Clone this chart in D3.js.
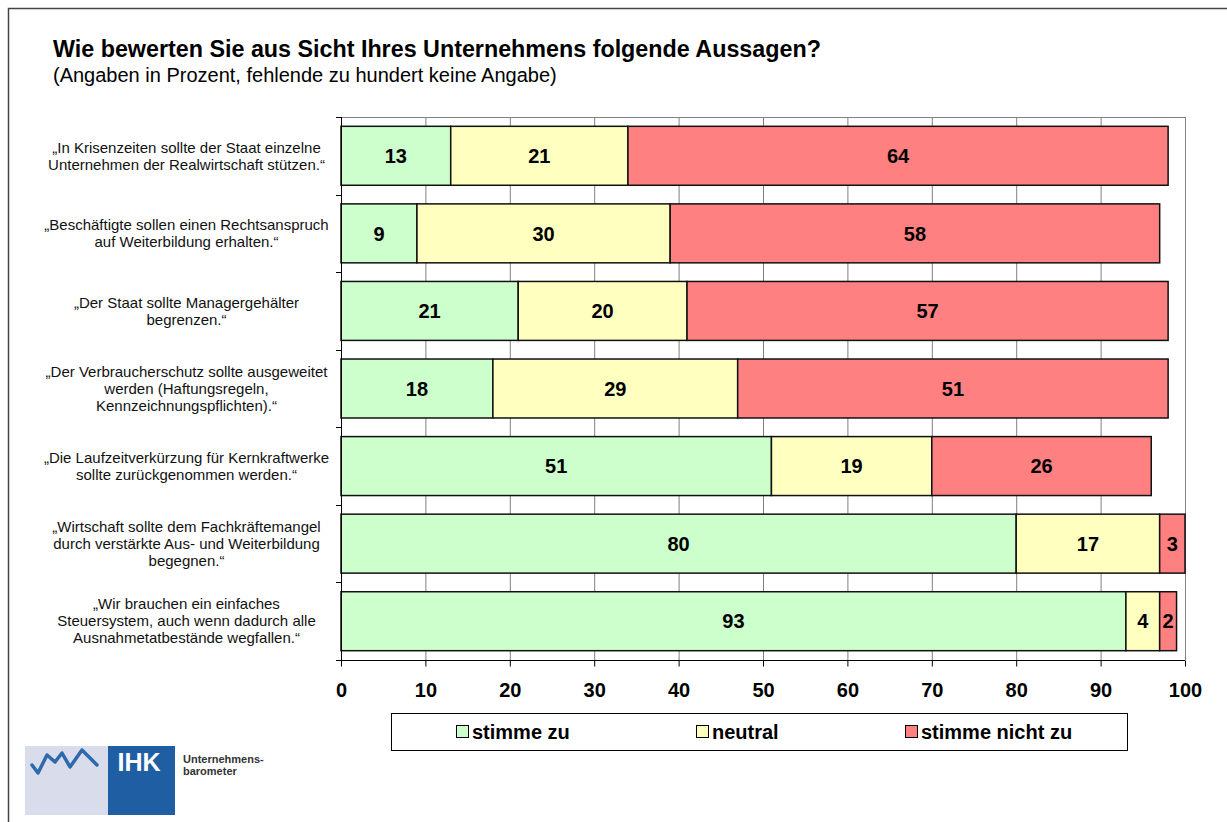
<!DOCTYPE html>
<html>
<head>
<meta charset="utf-8">
<script src="https://cdn.jsdelivr.net/npm/d3@7"></script>
<style>
  body { margin: 0; background: #fff; }
  svg { font-family: "Liberation Sans", Arial, sans-serif; }
</style>
</head>
<body>
<script>
const width = 1227;
const height = 822;

// statements (category labels, one array of lines each)
const statements = [
    ['„In Krisenzeiten sollte der Staat einzelne', 'Unternehmen der Realwirtschaft stützen.“'],
    ['„Beschäftigte sollen einen Rechtsanspruch', 'auf Weiterbildung erhalten.“'],
    ['„Der Staat sollte Managergehälter', 'begrenzen.“'],
    ['„Der Verbraucherschutz sollte ausgeweitet', 'werden (Haftungsregeln,', 'Kennzeichnungspflichten).“'],
    ['„Die Laufzeitverkürzung für Kernkraftwerke', 'sollte zurückgenommen werden.“'],
    ['„Wirtschaft sollte dem Fachkräftemangel', 'durch verstärkte Aus- und Weiterbildung', 'begegnen.“'],
    ['„Wir brauchen ein einfaches', 'Steuersystem, auch wenn dadurch alle', 'Ausnahmetatbestände wegfallen.“']
];
const seriesNames = ['stimme zu', 'neutral', 'stimme nicht zu'];
const agree = [13, 9, 21, 18, 51, 80, 93];
const neutral = [21, 30, 20, 29, 19, 17, 4];
const disagree = [64, 58, 57, 51, 26, 3, 2];
const xTicks = [0, 10, 20, 30, 40, 50, 60, 70, 80, 90, 100];

const colors = ['#ccffcc', '#ffffc0', '#ff8080'];

const margin = {left: 341, right: 1185, top: 117, bottom: 660};

const svg = d3.select('body').append('svg')
    .attr('width', width)
    .attr('height', height);

// outer frame
svg.append('rect')
    .attr('x', 8.5).attr('y', 8.5)
    .attr('width', width + 20).attr('height', height + 20)
    .attr('fill', 'none').attr('stroke', '#444').attr('stroke-width', 1.5);

// titles
svg.append('text')
    .attr('x', 53).attr('y', 57)
    .attr('font-size', 23.3).attr('font-weight', 'bold')
    .text('Wie bewerten Sie aus Sicht Ihres Unternehmens folgende Aussagen?');
svg.append('text')
    .attr('x', 53).attr('y', 82)
    .attr('font-size', 20)
    .text('(Angaben in Prozent, fehlende zu hundert keine Angabe)');

const x = d3.scaleLinear().domain([0, 100]).range([margin.left, margin.right]);
const y = d3.scaleBand()
    .domain(d3.range(statements.length))
    .range([margin.top, margin.bottom])
    .paddingInner(0.24)
    .paddingOuter(0.12);

// gridlines
svg.append('g')
    .selectAll('line')
    .data(xTicks.slice(1))
    .join('line')
    .attr('x1', d => x(d) + 0.5).attr('x2', d => x(d) + 0.5)
    .attr('y1', margin.top).attr('y2', margin.bottom)
    .attr('stroke', '#808080').attr('stroke-width', 1);
svg.append('line')
    .attr('x1', margin.left).attr('x2', margin.right)
    .attr('y1', margin.top + 0.5).attr('y2', margin.top + 0.5)
    .attr('stroke', '#808080');

// stacked bars
const rows = statements.map((s, i) => ({i, values: [agree[i], neutral[i], disagree[i]]}));
const segments = [];
rows.forEach(r => {
    let acc = 0;
    r.values.forEach((v, k) => {
        segments.push({i: r.i, k, v, x0: acc, x1: acc + v});
        acc += v;
    });
});

svg.append('g')
    .selectAll('rect')
    .data(segments)
    .join('rect')
    .attr('x', d => x(d.x0))
    .attr('y', d => y(d.i))
    .attr('width', d => x(d.x1) - x(d.x0))
    .attr('height', y.bandwidth())
    .attr('fill', d => colors[d.k])
    .attr('stroke', '#111')
    .attr('stroke-width', 1.5);

svg.append('g')
    .selectAll('text')
    .data(segments)
    .join('text')
    .attr('x', d => (x(d.x0) + x(d.x1)) / 2)
    .attr('y', d => y(d.i) + y.bandwidth() / 2)
    .attr('dy', '0.36em')
    .attr('text-anchor', 'middle')
    .attr('font-size', 20).attr('font-weight', 'bold')
    .text(d => d.v);

// bottom axis
const xAxis = svg.append('g')
    .attr('transform', `translate(0,${margin.bottom + 0.5})`)
    .call(d3.axisBottom(x).tickValues(xTicks).tickSize(6).tickPadding(16));
xAxis.select('.domain').attr('stroke', '#000').attr('d', `M${margin.left - 5},0H${margin.right}`);
xAxis.selectAll('.tick line').attr('stroke', '#000');
xAxis.selectAll('.tick text')
    .attr('font-family', '"Liberation Sans", Arial, sans-serif')
    .attr('font-size', 20).attr('font-weight', 'bold').attr('fill', '#000');

// left axis with category boundary ticks
svg.append('line')
    .attr('x1', margin.left + 0.5).attr('x2', margin.left + 0.5)
    .attr('y1', margin.top).attr('y2', margin.bottom + 6)
    .attr('stroke', '#000');
const boundaries = d3.range(statements.length).map(i => y(i) - y.step() * y.paddingInner() / 2);
svg.append('g')
    .selectAll('line')
    .data(boundaries)
    .join('line')
    .attr('x1', margin.left - 5).attr('x2', margin.left)
    .attr('y1', d => Math.round(d) + 0.5).attr('y2', d => Math.round(d) + 0.5)
    .attr('stroke', '#000');

// category labels
const lineH = 17;
const labels = svg.append('g')
    .selectAll('text')
    .data(statements)
    .join('text')
    .attr('text-anchor', 'middle')
    .attr('font-size', 15)
    .attr('fill', '#111')
    .attr('y', (d, i) => y(i) + y.bandwidth() / 2 - (d.length - 1) * lineH / 2);
labels.selectAll('tspan')
    .data(d => d)
    .join('tspan')
    .attr('x', 186.5)
    .attr('dy', (d, j) => j === 0 ? '0.35em' : lineH)
    .text(d => d);

// legend
const legend = svg.append('g');
legend.append('rect')
    .attr('x', 391.5).attr('y', 713.5)
    .attr('width', 736).attr('height', 37)
    .attr('fill', '#fff').attr('stroke', '#000');
const legendX = [456, 696, 905];
const li = legend.selectAll('g')
    .data(seriesNames)
    .join('g')
    .attr('transform', (d, k) => `translate(${legendX[k]},732)`);
li.append('rect')
    .attr('x', 0.5).attr('y', -6.5)
    .attr('width', 12).attr('height', 12)
    .attr('fill', (d, k) => colors[k]).attr('stroke', '#000');
li.append('text')
    .attr('x', 16).attr('dy', '0.36em')
    .attr('font-size', 20).attr('font-weight', 'bold')
    .text(d => d);

// IHK logo
const logo = svg.append('g');
logo.append('rect').attr('x', 25).attr('y', 746).attr('width', 84).attr('height', 69).attr('fill', '#d9dcea');
logo.append('rect').attr('x', 108).attr('y', 746).attr('width', 67).attr('height', 69).attr('fill', '#1f5ea3');
logo.append('path')
    .attr('d', 'M32,765 L38,773 L47,755 L55,762 L62,753 L70,767 L82,750 L97,765')
    .attr('fill', 'none').attr('stroke', '#2e69ad').attr('stroke-width', 3.5)
    .attr('stroke-linejoin', 'round').attr('stroke-linecap', 'round');
logo.append('text')
    .attr('x', 139).attr('y', 771).attr('text-anchor', 'middle')
    .attr('font-size', 25).attr('font-weight', 'bold').attr('fill', '#fff')
    .text('IHK');
logo.append('text')
    .attr('x', 183).attr('y', 763)
    .attr('font-size', 11).attr('font-weight', 'bold').attr('fill', '#333')
    .selectAll('tspan')
    .data(['Unternehmens-', 'barometer'])
    .join('tspan')
    .attr('x', 183)
    .attr('dy', (d, j) => j === 0 ? 0 : 12)
    .text(d => d);
</script>
</body>
</html>
